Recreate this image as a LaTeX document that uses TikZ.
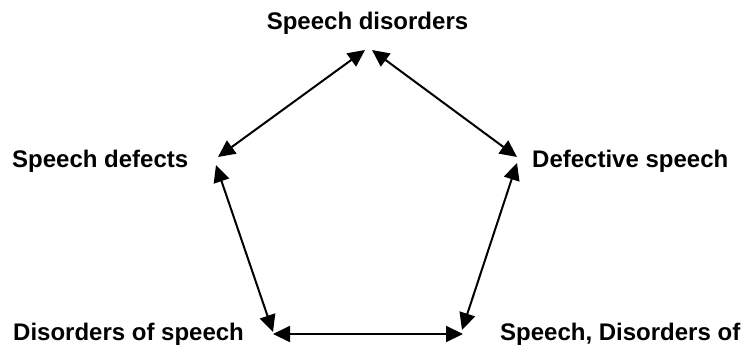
\documentclass[tikz,border=0pt]{standalone}
\usepackage{fontspec}
\setmainfont{Liberation Sans}
\usepackage{tikz}
\usetikzlibrary{arrows.meta}
\definecolor{ink}{HTML}{000000}

\begin{document}
\begin{tikzpicture}[x=1pt,y=1pt,
    term/.style={inner sep=0pt,font=\fontsize{24}{28}\selectfont\bfseries,text=ink},
    link/.style={{Triangle[length=17pt,width=16pt]}-{Triangle[length=17pt,width=16pt]},line width=2pt,ink}]
        \useasboundingbox (0,0) rectangle (744,346);
        \node[term,anchor=base] (top) at (367.5,316) {Speech disorders};
        \node[term,anchor=base west] (left) at (12,179) {Speech defects};
        \node[term,anchor=base west] (right) at (532,179) {Defective speech};
        \node[term,anchor=base west] (botl) at (13,6) {Disorders of speech};
        \node[term,anchor=base west] (botr) at (500,6) {Speech, Disorders of};
        % arrow ends near each term
        \coordinate (topL) at (365,296);
        \coordinate (topR) at (372,296);
        \coordinate (leftU) at (218,189);
        \coordinate (leftD) at (216,181);
        \coordinate (rightU) at (517,189);
        \coordinate (rightD) at (517,183);
        \coordinate (botlV) at (273,14);
        \coordinate (botlH) at (273,12);
        \coordinate (botrV) at (462,16);
        \coordinate (botrH) at (463,12);
        \draw[link] (leftU) -- (topL);
        \draw[link] (topR) -- (rightU);
        \draw[link] (leftD) -- (botlV);
        \draw[link] (rightD) -- (botrV);
        \draw[link] (botlH) -- (botrH);
      \end{tikzpicture}
\end{document}
